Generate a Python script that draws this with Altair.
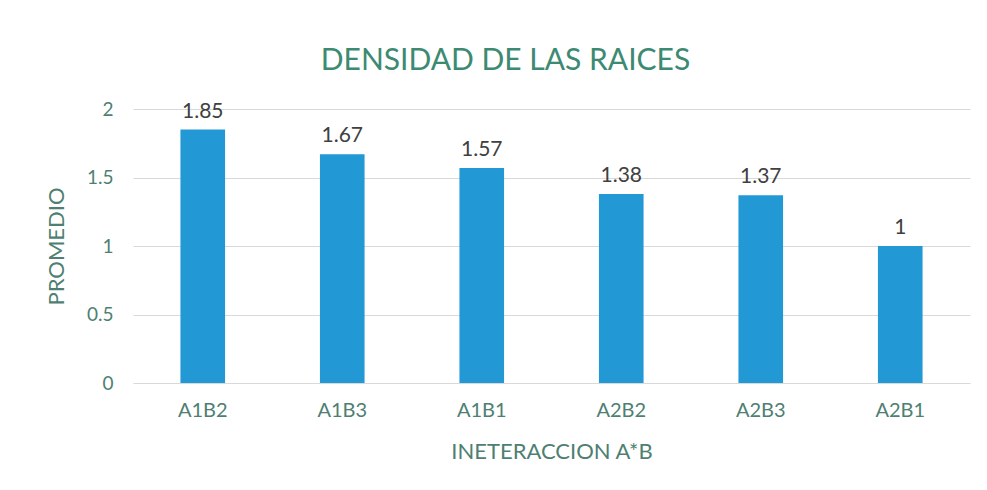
import altair as alt
import pandas as pd

categories = ["A1B2", "A1B3", "A1B1", "A2B2", "A2B3", "A2B1"]
values = [1.85, 1.67, 1.57, 1.38, 1.37, 1.0]
labels = ["1.85", "1.67", "1.57", "1.38", "1.37", "1"]

df = pd.DataFrame({"cat": categories, "val": values, "lab": labels})

FONT = "Lato"
TEAL = "#3D8A72"
AXIS_TXT = "#4E7F72"

x = alt.X("cat:N", sort=categories, title="INETERACCION A*B",
          scale=alt.Scale(paddingInner=0.68, paddingOuter=0.34),
          axis=alt.Axis(labelAngle=0, ticks=False, domain=False, labelPadding=17,
                        labelFontSize=20, labelColor=AXIS_TXT, labelFont=FONT,
                        titleFont=FONT, titleFontSize=22, titleFontWeight="normal",
                        titleColor=AXIS_TXT, titlePadding=21))
y = alt.Y("val:Q", title="PROMEDIO",
          scale=alt.Scale(domain=[0, 2]),
          axis=alt.Axis(values=[0, 0.5, 1, 1.5, 2], labelExpr="datum.value",
                        ticks=False, domain=False,
                        labelPadding=20, labelFontSize=19, labelColor=AXIS_TXT,
                        labelFont=FONT, gridColor="#D9D9D9", titleFont=FONT,
                        titleFontSize=22, titleFontWeight="normal",
                        titleColor=AXIS_TXT, titlePadding=18))

bars = alt.Chart(df).mark_bar(color="#2299D5").encode(x=x, y=y)
text = alt.Chart(df).mark_text(baseline="bottom", dy=-8, fontSize=21, font=FONT,
                               color="#404040").encode(x=x, y=y, text="lab:N")

chart = (bars + text).properties(
    width=837, height=274,
    title=alt.TitleParams("DENSIDAD DE LAS RAICES", font=FONT, fontSize=30,
                          fontWeight="normal", color=TEAL, anchor="middle",
                          offset=24, dx=-46),
    autosize=alt.AutoSizeParams(type="none"),
    padding={"left": 125, "top": 101, "right": 9, "bottom": 99},
).configure(background="white").configure_view(strokeWidth=0)

chart.save("out.html", embed_options={"renderer": "svg", "actions": False})
